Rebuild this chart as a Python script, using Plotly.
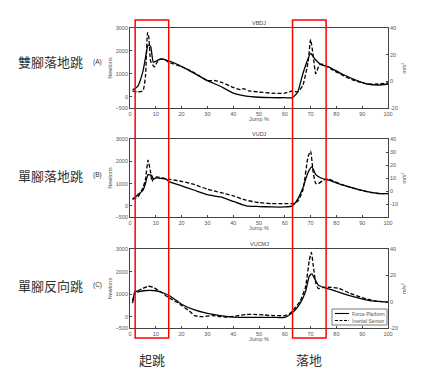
import plotly.graph_objects as go

# ---------------- data ----------------
# VBDJ (A)
vbdj_force_x = [1, 3, 5, 6, 7, 8, 9, 10, 12, 14, 17, 22, 26, 30, 35, 40, 45, 50, 55, 60, 63, 65, 67, 68.5, 70, 71, 72, 74, 77, 82, 88, 92, 96, 100]
vbdj_force_y = [300, 450, 1100, 1700, 2250, 2200, 1500, 1550, 1650, 1600, 1480, 1200, 950, 700, 450, 150, 20, -30, -50, -50, -50, 200, 1000, 1500, 1900, 1750, 1600, 1400, 1300, 1000, 700, 550, 500, 550]
vbdj_acc_x = [1, 3, 5, 6, 6.8, 7.3, 8, 8.7, 9.5, 11, 13, 15, 20, 24, 30, 33, 36, 40, 43, 44, 46, 50, 55, 60, 63, 65, 67, 69, 70, 71, 72, 73.5, 75, 78, 83, 87, 92, 96, 100]
vbdj_acc_y = [-7.1, -8.0, -7.1, 4.0, 36.6, 33.0, 15.0, 12.6, 10.9, 16.0, 16.9, 14.3, 11.0, 7.4, 0.6, 0.6, -1.1, -4.6, -6.3, -5.4, -7.1, -8.0, -8.9, -8.9, -7.1, -8.0, -2.9, 14.3, 31.4, 19.4, 5.7, 12.6, 12.6, 9.1, 4.0, 0.6, -2.0, -2.0, -1.1]

# VUDJ (B)
vudj_force_x = [1, 3, 5, 6, 7, 8.5, 9, 10, 14, 15, 20, 25, 30, 35, 40, 45, 50, 55, 60, 63, 65, 67, 69, 70.5, 72, 74, 77, 82, 88, 93, 97, 100]
vudj_force_y = [300, 500, 700, 1000, 1400, 1350, 1200, 1250, 1200, 1100, 900, 700, 500, 400, 200, 0, -30, -50, -50, 0, 300, 800, 1500, 1750, 1400, 1250, 1150, 950, 750, 620, 550, 550]
vudj_acc_x = [1, 3, 5, 6, 7, 8, 8.5, 9, 10, 15, 20, 25, 30, 35, 40, 45, 50, 55, 60, 63, 65, 67, 69, 70, 71, 72, 73, 75, 77, 82, 88, 93, 97, 100]
vudj_acc_y = [-6.3, -4.6, 2.3, 9.1, 23.7, 14.3, 7.4, 9.1, 10.9, 9.1, 7.4, 4.9, 1.4, -1.1, -3.7, -7.1, -8.9, -9.7, -9.7, -9.7, -8.0, 0.6, 26.3, 30.6, 14.3, 5.7, 5.7, 8.3, 9.1, 4.9, 1.4, -1.1, -2.0, -2.0]

# VUCMJ (C)
vucmj_force_x = [1, 2, 3, 5, 10, 13, 15, 17, 20, 25, 30, 35, 40, 45, 50, 55, 60, 62, 64, 66, 68, 69.5, 70.5, 71.5, 73, 75, 78, 82, 88, 94, 100]
vucmj_force_y = [600, 1150, 1100, 1150, 1150, 1050, 950, 800, 550, 300, 150, 50, -20, -30, -30, -30, -30, 100, 300, 600, 1100, 1800, 1900, 1700, 1400, 1300, 1200, 1050, 850, 700, 650]
vucmj_acc_x = [1, 2, 3, 5, 7, 9, 12, 15, 18, 20, 23, 25, 28, 32, 35, 38, 42, 45, 48, 52, 56, 60, 62, 64, 66, 68, 69.5, 70.3, 71, 72, 73, 75, 78, 81, 85, 90, 95, 100]
vucmj_acc_y = [0.6, 7.4, 8.3, 10.0, 11.7, 10.9, 7.4, 3.1, -0.3, -2.9, -7.1, -10.6, -11.4, -10.6, -11.4, -11.7, -10.6, -9.7, -9.7, -10.1, -10.6, -10.6, -8.9, -4.6, 0.6, 10.9, 31.4, 37.4, 28.0, 14.3, 10.0, 10.9, 10.9, 10.0, 6.6, 3.1, 0.6, -0.3]

panel_titles = ["VBDJ", "VUDJ", "VUCMJ"]
row_labels = ["雙腳落地跳", "單腳落地跳", "單腳反向跳"]
row_letters = ["(A)", "(B)", "(C)"]
phase_labels = ["起跳", "落地"]
phase_windows = [[2, 15], [63, 76]]
series_names = ["Force Platform", "Inertial Sensor"]
x_ticks = list(range(0, 101, 10))
force_ticks = [-500, 0, 1000, 2000, 3000]
acc_ticks = [[-20, 0, 20, 40], [-20, -10, 0, 10, 20, 30, 40], [-20, 0, 20, 40]]
acc_ticktext = [["-20", "0", "20", "40"], [" ", "-10", "0", "10", "20", "30", "40"], ["-20", "0", "20", "40"]]

panels = [
    (vbdj_force_x, vbdj_force_y, vbdj_acc_x, vbdj_acc_y),
    (vudj_force_x, vudj_force_y, vudj_acc_x, vudj_acc_y),
    (vucmj_force_x, vucmj_force_y, vucmj_acc_x, vucmj_acc_y),
]

# ---------------- layout geometry (window pixels -> paper) ----------------
# the page body has an 8px default margin, so the figure is drawn 8px smaller
OFF = 8
W, H = 435 - OFF, 376 - OFF
def px(v):
    return (v - OFF) / W
def py(v):
    return 1 - (v - OFF) / H

x_dom = [px(130), px(388)]
y_doms = [[py(108), py(28)], [py(217), py(139)], [py(328), py(249)]]
row_label_y = [62, 175, 285]

fig = go.Figure()
FONT = "Liberation Sans, Arial"
tick_font = dict(family=FONT, size=5.5, color="#555555")
CJK = dict(family="Noto Sans CJK TC", size=13, color="#333333")
layout = {}
annotations = []
shapes = []

for i, (fx, fy, ax_, ay) in enumerate(panels):
    n = i + 1
    xa = "x" if n == 1 else f"x{n}"
    ya_l = "y" if i == 0 else f"y{2 * i + 1}"
    ya_r = f"y{2 * i + 2}"
    fig.add_trace(go.Scatter(x=fx, y=fy, mode="lines", name=series_names[0],
                             line=dict(color="black", width=1.3, shape="spline", smoothing=0.5),
                             xaxis=xa, yaxis=ya_l, showlegend=False))
    fig.add_trace(go.Scatter(x=ax_, y=ay, mode="lines", name=series_names[1],
                             line=dict(color="black", width=1.3, dash="4px,2px", shape="spline", smoothing=0.5),
                             xaxis=xa, yaxis=ya_r, showlegend=False))
    xkey = "xaxis" if n == 1 else f"xaxis{n}"
    ylkey = "yaxis" if i == 0 else f"yaxis{2 * i + 1}"
    yrkey = f"yaxis{2 * i + 2}"
    common = dict(ticks="inside", ticklen=2, tickcolor="#444", showline=True, linecolor="#444",
                  linewidth=0.8, showgrid=False, zeroline=False, tickfont=tick_font, automargin=False)
    layout[xkey] = dict(domain=x_dom, anchor=ya_l, range=[0, 100], tickvals=x_ticks, mirror=True,
                        title=dict(text="Jump %", font=tick_font, standoff=1), **common)
    layout[ylkey] = dict(domain=y_doms[i], anchor=xa, range=[-500, 3000], tickvals=force_ticks,
                         title=dict(text="Newtons", font=tick_font, standoff=2), **common)
    layout[yrkey] = dict(domain=y_doms[i], anchor=xa, overlaying=ya_l, side="right", range=[-20, 40],
                         tickvals=acc_ticks[i], ticktext=acc_ticktext[i],
                         title=dict(text="m/s<sup>2</sup>", font=tick_font, standoff=5), **common)
    annotations.append(dict(text=panel_titles[i], x=0.5, xref=f"{xa} domain", y=1.0, yref=f"{ya_l} domain",
                            xanchor="center", yanchor="bottom", showarrow=False,
                            font=dict(family=FONT, size=5.5, color="#444")))
    annotations.append(dict(text=row_labels[i], x=px(50), xref="paper", y=py(row_label_y[i]), yref="paper",
                            xanchor="center", yanchor="middle", showarrow=False, font=CJK))
    annotations.append(dict(text=row_letters[i], x=px(97), xref="paper", y=py(row_label_y[i]), yref="paper",
                            xanchor="center", yanchor="middle", showarrow=False,
                            font=dict(family=FONT, size=6.5, color="#333")))

# red highlight windows spanning all three panels
for k, (a, b) in enumerate(phase_windows):
    shapes.append(dict(type="rect", xref="x", yref="paper", x0=a, x1=b, y0=py(338), y1=py(20),
                       line=dict(color="red", width=1.5), fillcolor="rgba(0,0,0,0)"))
    annotations.append(dict(text=phase_labels[k], x=(a + b) / 2, xref="x", y=py(359), yref="paper",
                            xanchor="center", yanchor="middle", showarrow=False, font=CJK))

# legend box in panel C (drawn like the MATLAB legend)
lg_x0, lg_x1, lg_y0, lg_y1 = 332, 387, 309, 325
shapes.append(dict(type="rect", xref="paper", yref="paper", x0=px(lg_x0), x1=px(lg_x1), y0=py(lg_y1), y1=py(lg_y0),
                   line=dict(color="#444", width=0.7), fillcolor="white"))
for j, dash in enumerate(["solid", "3px,1.5px"]):
    yy = py(313.5 + j * 7)
    shapes.append(dict(type="line", xref="paper", yref="paper", x0=px(335), x1=px(349), y0=yy, y1=yy,
                       line=dict(color="black", width=1.1, dash=dash)))
    annotations.append(dict(text=series_names[j], x=px(350), xref="paper", y=yy, yref="paper",
                            xanchor="left", yanchor="middle", showarrow=False,
                            font=dict(family=FONT, size=5, color="#555")))

fig.update_layout(
    width=W, height=H,
    margin=dict(l=0, r=0, t=0, b=0),
    paper_bgcolor="white", plot_bgcolor="white",
    showlegend=False,
    annotations=annotations,
    shapes=shapes,
    **layout,
)

fig.write_html("out.html")
